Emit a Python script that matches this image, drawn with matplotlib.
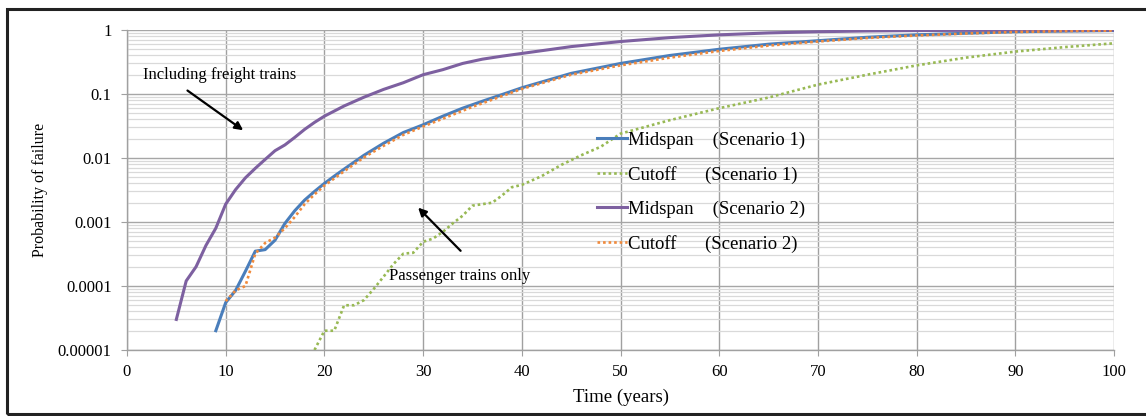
import matplotlib
matplotlib.use("Agg")
import matplotlib.pyplot as plt
import matplotlib.patches as patches
from matplotlib.ticker import FixedLocator, LogLocator, NullFormatter

plt.rcParams["font.family"] = ["Liberation Serif", "DejaVu Serif"]

# ── Data ───────────────────────────────────────────────────────────
t_mid1 = [9, 10, 11, 12, 13, 14, 15, 16, 17, 18, 19, 20, 21, 22, 24, 26, 28, 30,
          32, 34, 36, 38, 40, 45, 50, 55, 60, 65, 70, 75, 80, 85, 90, 95, 100]
p_mid1 = [2.0e-5, 5.5e-5, 8.5e-5, 1.7e-4, 3.5e-4, 3.7e-4, 5.2e-4, 9.5e-4, 1.5e-3,
          2.2e-3, 3.0e-3, 4.0e-3, 5.2e-3, 6.7e-3, 0.011, 0.017, 0.025, 0.033,
          0.045, 0.060, 0.077, 0.098, 0.125, 0.21, 0.30, 0.40, 0.50, 0.60, 0.68,
          0.77, 0.84, 0.89, 0.94, 0.96, 0.98]

t_cut1 = [19, 20, 21, 22, 23, 24, 25, 26, 27, 28, 29, 30, 31, 32, 33, 34, 35, 36,
          37, 38, 39, 40, 42, 44, 46, 48, 50, 55, 60, 65, 70, 75, 80, 85, 90, 95, 100]
p_cut1 = [1.0e-5, 2.0e-5, 2.0e-5, 5.0e-5, 5.0e-5, 6.0e-5, 9.0e-5, 1.4e-4, 2.2e-4,
          3.2e-4, 3.3e-4, 4.9e-4, 5.5e-4, 7.0e-4, 9.5e-4, 1.25e-3, 1.8e-3, 1.9e-3,
          2.0e-3, 2.6e-3, 3.5e-3, 3.8e-3, 5.2e-3, 7.8e-3, 0.011, 0.015, 0.024,
          0.039, 0.060, 0.088, 0.14, 0.20, 0.28, 0.37, 0.46, 0.54, 0.62]

t_mid2 = [5, 6, 7, 8, 9, 10, 11, 12, 13, 14, 15, 16, 17, 18, 19, 20, 22, 24, 26,
          28, 30, 32, 34, 36, 38, 40, 45, 50, 55, 60, 65, 70, 75, 80, 90, 100]
p_mid2 = [3.0e-5, 1.2e-4, 2.0e-4, 4.3e-4, 8.0e-4, 1.9e-3, 3.2e-3, 4.9e-3, 6.9e-3,
          9.5e-3, 0.013, 0.016, 0.021, 0.028, 0.036, 0.045, 0.065, 0.089, 0.118,
          0.15, 0.20, 0.24, 0.30, 0.35, 0.39, 0.43, 0.55, 0.66, 0.76, 0.84, 0.90,
          0.94, 0.965, 0.98, 0.995, 1.0]

t_cut2 = [10, 11, 12, 13, 14, 15, 16, 17, 18, 19, 20, 22, 24, 26, 28, 30, 35, 40,
          45, 50, 55, 60, 65, 70, 75, 80, 85, 90, 95, 100]
p_cut2 = [5.8e-5, 8.5e-5, 1.0e-4, 3.2e-4, 4.7e-4, 5.7e-4, 8.0e-4, 1.2e-3, 1.9e-3,
          2.7e-3, 3.7e-3, 6.2e-3, 0.0102, 0.0155, 0.023, 0.031, 0.063, 0.12, 0.20,
          0.28, 0.37, 0.47, 0.57, 0.66, 0.75, 0.82, 0.88, 0.93, 0.96, 0.98]

y_ticks = [1e-5, 1e-4, 1e-3, 1e-2, 1e-1, 1]
y_tick_labels = ["0.00001", "0.0001", "0.001", "0.01", "0.1", "1"]
x_ticks = [0, 10, 20, 30, 40, 50, 60, 70, 80, 90, 100]

C_BLUE = "#4A7EBB"
C_GREEN = "#98B954"
C_PURPLE = "#7D60A0"
C_ORANGE = "#F08A3C"

fig = plt.figure(figsize=(11.46, 4.16), dpi=100, facecolor="white")
ax = fig.add_axes([0.1108, 0.1587, 0.8613, 0.7692])

DOT = (0, (1, 1.1))
ax.plot(t_mid1, p_mid1, color=C_BLUE, lw=2.2, label="Midspan    (Scenario 1)", zorder=4)
ax.plot(t_cut1, p_cut1, color=C_GREEN, lw=1.9, ls=DOT, label="Cutoff      (Scenario 1)", zorder=3)
ax.plot(t_mid2, p_mid2, color=C_PURPLE, lw=2.2, label="Midspan    (Scenario 2)", zorder=4)
ax.plot(t_cut2, p_cut2, color=C_ORANGE, lw=1.9, ls=DOT, label="Cutoff      (Scenario 2)", zorder=5)

ax.set_yscale("log")
ax.set_ylim(1e-5, 1)
ax.set_xlim(0, 100)
ax.yaxis.set_major_locator(FixedLocator(y_ticks))
ax.set_yticklabels(y_tick_labels)
ax.yaxis.set_minor_locator(LogLocator(base=10, subs=range(2, 10)))
ax.yaxis.set_minor_formatter(NullFormatter())
ax.set_xticks(x_ticks)

ax.grid(which="major", axis="y", color="#A6A6A6", lw=1.0, zorder=0)
ax.grid(which="minor", axis="y", color="#D9D9D9", lw=0.9, zorder=0)
ax.grid(which="major", axis="x", color="#A0A0A0", lw=1.0, zorder=0)
ax.set_axisbelow(True)

for s in ["top", "right"]:
    ax.spines[s].set_visible(False)
for s in ["left", "bottom"]:
    ax.spines[s].set_color("#A0A0A0")
    ax.spines[s].set_linewidth(1.0)
ax.tick_params(axis="both", which="major", direction="out", length=4, color="#A0A0A0",
               labelsize=12, labelcolor="black")
ax.tick_params(axis="x", which="major", pad=6)
ax.tick_params(axis="y", which="major", pad=7)
ax.tick_params(axis="y", which="minor", length=0)

ax.set_xlabel("Time (years)", fontsize=13.5, labelpad=6)
ax.set_ylabel("Probability of failure", fontsize=11.5, labelpad=7)

ax.legend(loc="upper left", bbox_to_anchor=(0.467, 0.712), frameon=False, fontsize=13.5,
          handlelength=1.6, handletextpad=0.05, labelspacing=0.9, borderpad=0)

ax.text(1.6, 0.2, "Including freight trains", fontsize=12, va="center", ha="left")
ax.annotate("", xy=(12.0, 0.0256), xytext=(5.9, 0.12),
            arrowprops=dict(arrowstyle="-|>", color="black", lw=1.6, mutation_scale=12))
ax.text(26.5, 1.44e-4, "Passenger trains only", fontsize=12, va="center", ha="left")
ax.annotate("", xy=(29.3, 1.8e-3), xytext=(34.0, 3.3e-4),
            arrowprops=dict(arrowstyle="-|>", color="black", lw=1.6, mutation_scale=12))

# outer frame (right side is cropped in the reference)
frame = patches.Rectangle((7 / 1146, 2 / 416), 1.2, 405 / 416, transform=fig.transFigure,
                          fill=False, edgecolor="#222222", lw=2.2)
fig.patches.append(frame)

fig.savefig("out.png", dpi=100, facecolor="white")
